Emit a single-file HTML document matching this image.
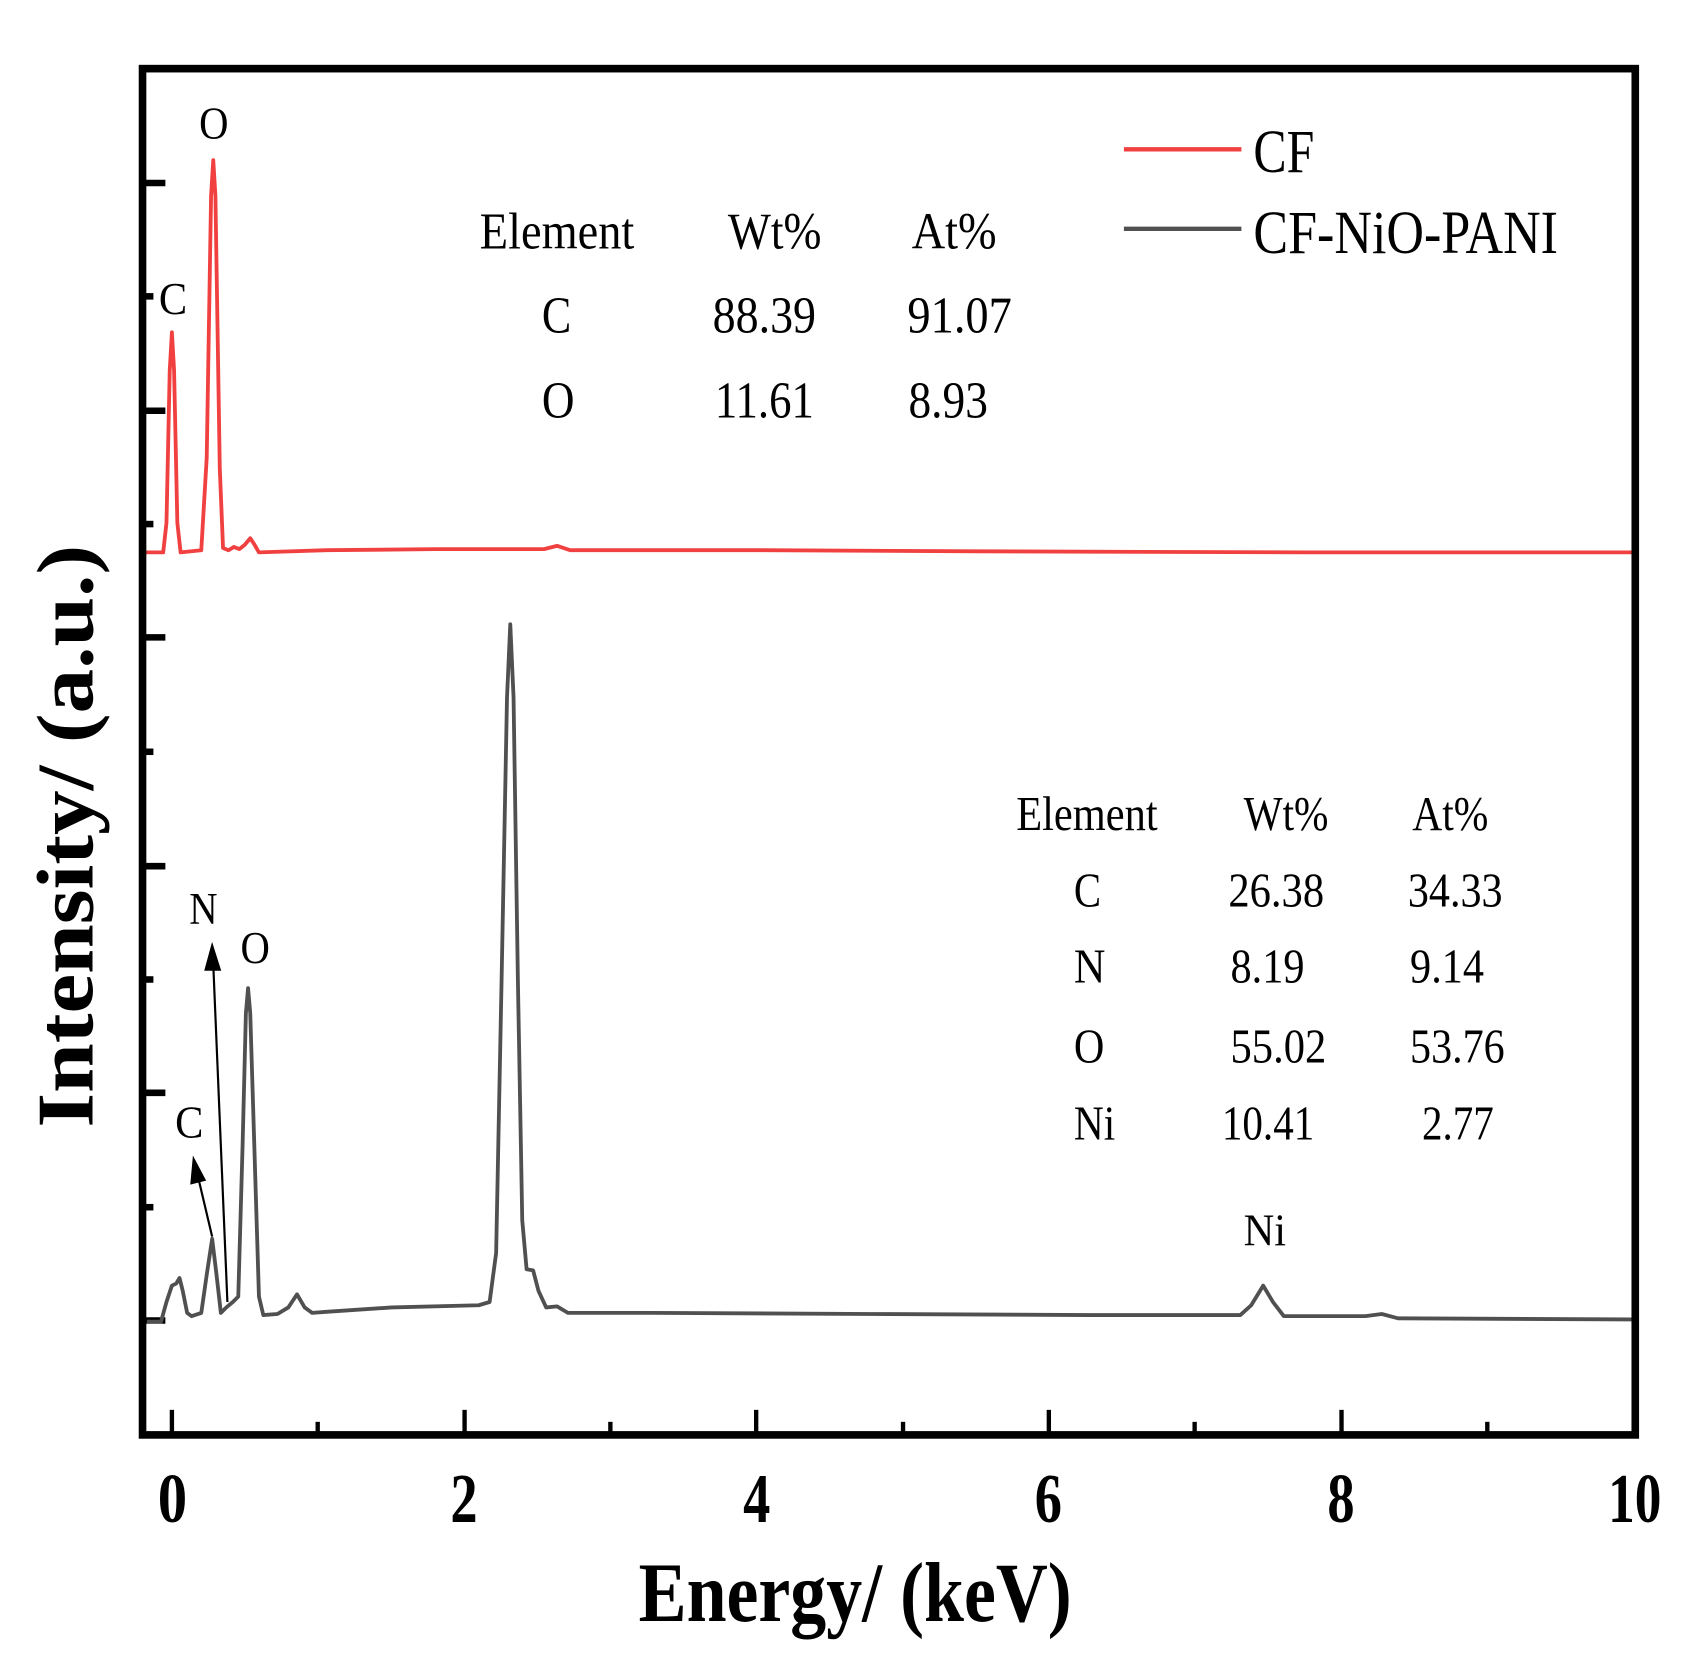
<!DOCTYPE html>
<html><head><meta charset="utf-8"><style>html,body{margin:0;padding:0;background:#fff}svg{display:block}</style></head>
<body>
<svg width="1706" height="1655" viewBox="0 0 1568 1519" preserveAspectRatio="none" xmlns="http://www.w3.org/2000/svg" font-family="Liberation Serif, serif">
<rect width="1568" height="1519" fill="#fff"/>
<!-- ticks -->
<g stroke="#000" stroke-width="4">
<line x1="158" y1="1316" x2="158" y2="1294"/><line x1="292" y1="1316" x2="292" y2="1305"/>
<line x1="427" y1="1316" x2="427" y2="1294"/><line x1="561" y1="1316" x2="561" y2="1305"/>
<line x1="695" y1="1316" x2="695" y2="1294"/><line x1="830" y1="1316" x2="830" y2="1305"/>
<line x1="964" y1="1316" x2="964" y2="1294"/><line x1="1098" y1="1316" x2="1098" y2="1305"/>
<line x1="1233" y1="1316" x2="1233" y2="1294"/><line x1="1367" y1="1316" x2="1367" y2="1305"/>
<g stroke-width="6">
<line x1="133" y1="168" x2="152" y2="168"/><line x1="133" y1="377" x2="152" y2="377"/>
<line x1="133" y1="585" x2="152" y2="585"/><line x1="133" y1="795" x2="152" y2="795"/>
<line x1="133" y1="1003" x2="152" y2="1003"/><line x1="133" y1="1212" x2="152" y2="1212"/>
<line x1="133" y1="272" x2="141" y2="272"/><line x1="133" y1="481" x2="141" y2="481"/>
<line x1="133" y1="690" x2="141" y2="690"/><line x1="133" y1="899" x2="141" y2="899"/>
<line x1="133" y1="1108" x2="141" y2="1108"/>
</g></g>
<!-- red spectrum -->
<polyline fill="none" stroke="#f04040" stroke-width="3.5" stroke-linejoin="round" points="133,507 150,507 153,480 156,340 158,305 160,340 163,480 166,507 185,505 190,420 194,180 196,147 198,180 202,430 205,503 210,505 215,502 220,504 225,500 230,494 234,500 238,507 300,505 400,504 500,504 512,501 524,505 700,505 900,506 1200,507 1502,507"/>
<!-- gray spectrum -->
<polyline fill="none" stroke="#505050" stroke-width="3.5" stroke-linejoin="round" points="135,1213 148,1213 153,1195 158,1180 162,1178 165,1173 168,1185 172,1205 176,1208 185,1205 190,1170 195,1137 199,1170 203,1205 208,1200 214,1195 219,1190 223,1050 226,930 228,907 230,930 234,1060 238,1190 242,1207 255,1206 265,1200 273,1188 280,1200 287,1205 300,1204 360,1200 440,1198 450,1195 456,1150 461,900 466,640 469,573 472,640 476,900 480,1120 484,1165 490,1166 495,1185 502,1200 512,1199 522,1205 600,1205 800,1206 1000,1207 1140,1207 1150,1198 1161,1180 1170,1195 1180,1208 1255,1208 1270,1206 1285,1210 1500,1211"/>
<!-- frame -->
<rect x="131" y="63" width="1372" height="1254" fill="none" stroke="#000" stroke-width="7"/>
<!-- arrows -->
<g stroke="#000" stroke-width="2" fill="#000">
<line x1="209" y1="1195" x2="196" y2="885"/><polygon points="195,868 189,890 202,890"/>
<line x1="195" y1="1135" x2="182" y2="1080"/><polygon points="178,1064 176,1086 188,1083"/>
</g>
<!-- legend -->
<line x1="1033" y1="137" x2="1141" y2="137" stroke="#f04040" stroke-width="4"/>
<line x1="1033" y1="210" x2="1141" y2="210" stroke="#505050" stroke-width="4"/>
<g font-size="56" fill="#000">
<text x="1152" y="158" textLength="56" lengthAdjust="spacingAndGlyphs">CF</text>
<text x="1152" y="232" textLength="280" lengthAdjust="spacingAndGlyphs">CF-NiO-PANI</text>
</g>
<!-- table 1 -->
<g font-size="48" fill="#000">
<text x="441" y="228" textLength="142" lengthAdjust="spacingAndGlyphs">Element</text>
<text x="669" y="228" textLength="86" lengthAdjust="spacingAndGlyphs">Wt%</text>
<text x="838" y="228" textLength="78" lengthAdjust="spacingAndGlyphs">At%</text>
<text x="498" y="305" textLength="27" lengthAdjust="spacingAndGlyphs">C</text>
<text x="655" y="305" textLength="95" lengthAdjust="spacingAndGlyphs">88.39</text>
<text x="834" y="305" textLength="96" lengthAdjust="spacingAndGlyphs">91.07</text>
<text x="498" y="383" textLength="30" lengthAdjust="spacingAndGlyphs">O</text>
<text x="657" y="383" textLength="91" lengthAdjust="spacingAndGlyphs">11.61</text>
<text x="835" y="383" textLength="73" lengthAdjust="spacingAndGlyphs">8.93</text>
</g>
<!-- table 2 -->
<g font-size="45" fill="#000">
<text x="934" y="762" textLength="130" lengthAdjust="spacingAndGlyphs">Element</text>
<text x="1143" y="762" textLength="78" lengthAdjust="spacingAndGlyphs">Wt%</text>
<text x="1298" y="762" textLength="70" lengthAdjust="spacingAndGlyphs">At%</text>
<text x="987" y="832" textLength="25" lengthAdjust="spacingAndGlyphs">C</text>
<text x="1129" y="832" textLength="88" lengthAdjust="spacingAndGlyphs">26.38</text>
<text x="1294" y="832" textLength="87" lengthAdjust="spacingAndGlyphs">34.33</text>
<text x="987" y="902" textLength="29" lengthAdjust="spacingAndGlyphs">N</text>
<text x="1131" y="902" textLength="68" lengthAdjust="spacingAndGlyphs">8.19</text>
<text x="1296" y="902" textLength="68" lengthAdjust="spacingAndGlyphs">9.14</text>
<text x="987" y="975" textLength="28" lengthAdjust="spacingAndGlyphs">O</text>
<text x="1131" y="975" textLength="88" lengthAdjust="spacingAndGlyphs">55.02</text>
<text x="1296" y="975" textLength="87" lengthAdjust="spacingAndGlyphs">53.76</text>
<text x="987" y="1046" textLength="38" lengthAdjust="spacingAndGlyphs">Ni</text>
<text x="1123" y="1046" textLength="85" lengthAdjust="spacingAndGlyphs">10.41</text>
<text x="1307" y="1046" textLength="66" lengthAdjust="spacingAndGlyphs">2.77</text>
</g>
<!-- peak labels -->
<g font-size="42" fill="#000">
<text x="183" y="127" textLength="27" lengthAdjust="spacingAndGlyphs">O</text>
<text x="146" y="288" textLength="26" lengthAdjust="spacingAndGlyphs">C</text>
<text x="174" y="848" textLength="26" lengthAdjust="spacingAndGlyphs">N</text>
<text x="221" y="884" textLength="27" lengthAdjust="spacingAndGlyphs">O</text>
<text x="161" y="1044" textLength="26" lengthAdjust="spacingAndGlyphs">C</text>
<text x="1143" y="1143" textLength="39" lengthAdjust="spacingAndGlyphs">Ni</text>
</g>
<!-- tick labels -->
<g font-size="64" font-weight="bold" fill="#000">
<text x="145" y="1397" textLength="27" lengthAdjust="spacingAndGlyphs">0</text>
<text x="414" y="1397" textLength="25" lengthAdjust="spacingAndGlyphs">2</text>
<text x="683" y="1397" textLength="25" lengthAdjust="spacingAndGlyphs">4</text>
<text x="951" y="1397" textLength="25" lengthAdjust="spacingAndGlyphs">6</text>
<text x="1220" y="1397" textLength="25" lengthAdjust="spacingAndGlyphs">8</text>
<text x="1478" y="1397" textLength="49" lengthAdjust="spacingAndGlyphs">10</text>
</g>
<text x="587" y="1488" font-size="78" font-weight="bold" textLength="398" lengthAdjust="spacingAndGlyphs">Energy/ (keV)</text>
<text transform="translate(85,1035) rotate(-90)" font-size="74" font-weight="bold" textLength="535" lengthAdjust="spacingAndGlyphs">Intensity/ (a.u.)</text>
</svg>
</body></html>
